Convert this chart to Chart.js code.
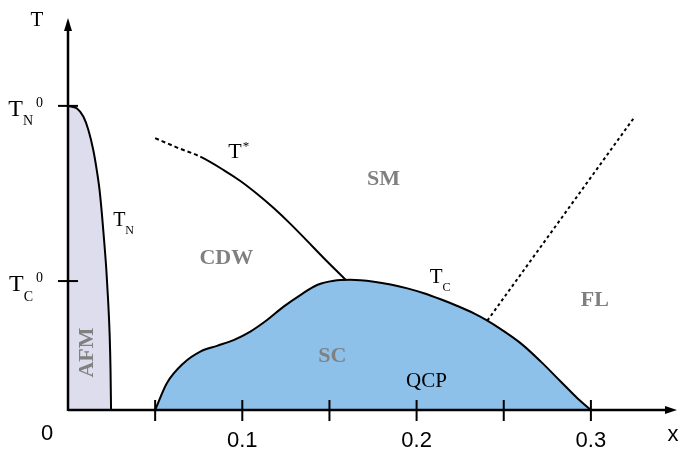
<!DOCTYPE html>
<html>
<head>
<meta charset="utf-8">
<script src="https://cdn.jsdelivr.net/npm/chart.js@4/dist/chart.umd.min.js"></script>
<style>
  html, body { margin: 0; padding: 0; background: #fff; }
  #wrap { width: 678px; height: 452px; }
</style>
</head>
<body>
<div id="wrap"><canvas id="phase" width="678" height="452"></canvas></div>
<script>
// Neel line T_N (AFM boundary)
var tnX = [0, 0.005, 0.0088, 0.0117, 0.0145, 0.0165, 0.0181, 0.0194, 0.0207, 0.022, 0.023, 0.0239, 0.0244, 0.0247];
var tnY = [100, 99.2, 96.5, 92.1, 85.5, 78.9, 72.4, 64.8, 55.9, 46.1, 36.2, 24.7, 13.2, 0];

// superconducting dome T_c
var scX = [0.05, 0.0567, 0.0663, 0.0759, 0.0855, 0.095, 0.1046, 0.1142, 0.1237, 0.1333, 0.1429, 0.1525, 0.1620, 0.1755, 0.1851, 0.1947, 0.2042, 0.2138, 0.2234, 0.2329, 0.2406, 0.2483, 0.2598, 0.2713, 0.2828, 0.2924, 0.3];
var scY = [0, 8.8, 15.4, 19.2, 21.1, 23.0, 25.8, 29.6, 34.0, 37.8, 41.1, 42.5, 42.8, 42.2, 41.3, 40.0, 38.4, 36.4, 34.2, 31.8, 29.4, 26.6, 21.9, 15.9, 9.3, 3.8, 0];

// pseudogap line T*  (first two segments dotted)
var tStarX = [0.05, 0.0626, 0.0759, 0.0893, 0.0989, 0.1084, 0.118, 0.1276, 0.1372, 0.1467, 0.1595];
var tStarY = [89.4, 86.3, 83.3, 78.9, 75.3, 71.1, 66.4, 61.2, 55.6, 50.0, 42.7];

// strange metal / Fermi liquid crossover
var flX = [0.2406, 0.3246];
var flY = [29.4, 96.0];

// axis ticks
var xTicks = [0.05, 0.1, 0.15, 0.2, 0.25, 0.3];
var xTickLabels = [0.1, 0.2, 0.3];
var yTicks = [100, 42.4];
var yTickSubs = ['N', 'C'];

// region names
var regionNames = ['SM', 'CDW', 'SC', 'FL'];
var regionX = [0.181, 0.0908, 0.1517, 0.3023];
var regionY = [75.7, 50.0, 17.8, 36.2];

function pts(xs, ys) {
    return xs.map(function (x, i) { return {x: x, y: ys[i]}; });
}

var SERIF = '"Liberation Serif", "DejaVu Serif", serif';
var SANS = '"Liberation Sans", Arial, sans-serif';

// draws "T" with a subscript and/or superscript, left baseline at (x, y)
function drawT(ctx, x, y, size, sub, sup, measureOnly) {
    ctx.font = size + 'px ' + SERIF;
    var tw = ctx.measureText('T').width;
    var small = Math.round(size * 0.58);
    ctx.font = small + 'px ' + SERIF;
    var sw = sub ? ctx.measureText(sub).width : 0;
    var pw = sup ? ctx.measureText(sup).width : 0;
    var supX = x + tw + (sub ? sw + 3 : 1);
    var total = supX + pw - x;
    if (measureOnly) return total;
    ctx.fillStyle = '#000';
    ctx.textAlign = 'left';
    ctx.textBaseline = 'alphabetic';
    ctx.font = size + 'px ' + SERIF;
    ctx.fillText('T', x, y);
    ctx.font = small + 'px ' + SERIF;
    if (sub) ctx.fillText(sub, x + tw, y + size * 0.4);
    if (sup) ctx.fillText(sup, supX, y - size * 0.38);
    return total;
}

var axesPlugin = {
    id: 'phaseAxes',
    afterDatasetsDraw: function (chart) {
        var ctx = chart.ctx;
        var xs = chart.scales.x, ys = chart.scales.y;
        var x0 = xs.getPixelForValue(0), y0 = ys.getPixelForValue(0);
        var area = chart.chartArea;
        ctx.save();
        ctx.strokeStyle = '#000';
        ctx.fillStyle = '#000';
        ctx.lineWidth = 2.5;
        ctx.lineCap = 'butt';

        // x axis with arrow
        ctx.beginPath();
        ctx.moveTo(x0, y0);
        ctx.lineTo(area.right - 8, y0);
        ctx.stroke();
        ctx.beginPath();
        ctx.moveTo(area.right, y0);
        ctx.lineTo(area.right - 12, y0 - 4);
        ctx.lineTo(area.right - 12, y0 + 4);
        ctx.closePath();
        ctx.fill();

        // y axis with arrow
        ctx.beginPath();
        ctx.moveTo(x0, y0 + 1);
        ctx.lineTo(x0, area.top + 8);
        ctx.stroke();
        ctx.beginPath();
        ctx.moveTo(x0, area.top);
        ctx.lineTo(x0 - 4, area.top + 13);
        ctx.lineTo(x0 + 4, area.top + 13);
        ctx.closePath();
        ctx.fill();

        // ticks crossing the axes
        ctx.lineWidth = 2;
        xTicks.forEach(function (v) {
            var px = xs.getPixelForValue(v);
            ctx.beginPath();
            ctx.moveTo(px, y0 - 10);
            ctx.lineTo(px, y0 + 11);
            ctx.stroke();
        });
        yTicks.forEach(function (v) {
            var py = ys.getPixelForValue(v);
            ctx.beginPath();
            ctx.moveTo(x0 - 10, py);
            ctx.lineTo(x0 + 10, py);
            ctx.stroke();
        });

        // x tick labels
        ctx.font = '22px ' + SANS;
        ctx.textAlign = 'center';
        ctx.textBaseline = 'middle';
        xTickLabels.forEach(function (v) {
            ctx.fillText(String(v), xs.getPixelForValue(v), y0 + 31);
        });
        ctx.fillText('0', x0 - 21, y0 + 24);
        ctx.fillText('x', area.right - 4, y0 + 25);

        // y tick labels T_N^0, T_C^0
        yTicks.forEach(function (v, i) {
            var py = ys.getPixelForValue(v);
            var w = drawT(ctx, 0, 0, 24, yTickSubs[i], '0', true);
            drawT(ctx, x0 - 25 - w, py + 10, 24, yTickSubs[i], '0');
        });

        // axis title T
        ctx.font = '21px ' + SERIF;
        ctx.textAlign = 'center';
        ctx.textBaseline = 'middle';
        ctx.fillText('T', x0 - 31, area.top + 2);

        // curve labels
        drawT(ctx, xs.getPixelForValue(0.0259), ys.getPixelForValue(60.5), 20, 'N', null);
        drawT(ctx, xs.getPixelForValue(0.092), ys.getPixelForValue(82.9), 22, null, '*');
        drawT(ctx, xs.getPixelForValue(0.2075), ys.getPixelForValue(41.8), 21, 'C', null);

        ctx.font = '21px ' + SERIF;
        ctx.textAlign = 'center';
        ctx.textBaseline = 'middle';
        ctx.fillStyle = '#000';
        ctx.fillText('QCP', xs.getPixelForValue(0.2057), ys.getPixelForValue(9.5));

        // region names in grey bold
        ctx.fillStyle = '#808080';
        ctx.font = 'bold 22px ' + SERIF;
        regionNames.forEach(function (name, i) {
            ctx.fillText(name, xs.getPixelForValue(regionX[i]), ys.getPixelForValue(regionY[i]));
        });
        ctx.save();
        ctx.translate(xs.getPixelForValue(0.0112), ys.getPixelForValue(18.9));
        ctx.rotate(-Math.PI / 2);
        ctx.fillText('AFM', 0, 0);
        ctx.restore();

        ctx.restore();
    }
};

var ctx = document.getElementById('phase');
var phaseChart = new Chart(ctx, {
    type: 'line',
    data: {
        datasets: [{
                label: 'T*',
                data: pts(tStarX, tStarY),
                borderColor: '#000',
                borderWidth: 2,
                fill: false,
                cubicInterpolationMode: 'monotone',
                segment: {
                    borderDash: function (c) { return c.p1DataIndex <= 2 ? [4, 3] : undefined; }
                }
            }, {
                label: 'crossover',
                data: pts(flX, flY),
                borderColor: '#000',
                borderWidth: 2,
                borderDash: [3, 3],
                fill: false
            }, {
                label: 'T_N',
                data: pts(tnX, tnY),
                borderColor: '#000',
                borderWidth: 2,
                backgroundColor: 'rgb(221, 221, 238)',
                fill: 'origin',
                cubicInterpolationMode: 'monotone'
            }, {
                label: 'T_c',
                data: pts(scX, scY),
                borderColor: '#000',
                borderWidth: 2,
                backgroundColor: 'rgb(141, 193, 233)',
                fill: 'origin',
                cubicInterpolationMode: 'monotone'
            }]
    },
    options: {
        responsive: false,
        animation: false,
        devicePixelRatio: 1,
        layout: {padding: {left: 68, right: 1, top: 18, bottom: 42}},
        elements: {point: {radius: 0}},
        scales: {
            x: {type: 'linear', min: 0, max: 0.3494, display: false},
            y: {type: 'linear', min: 0, max: 128.9, display: false}
        },
        plugins: {
            legend: {display: false},
            tooltip: {enabled: false}
        }
    },
    plugins: [axesPlugin]
});
</script>
</body>
</html>
